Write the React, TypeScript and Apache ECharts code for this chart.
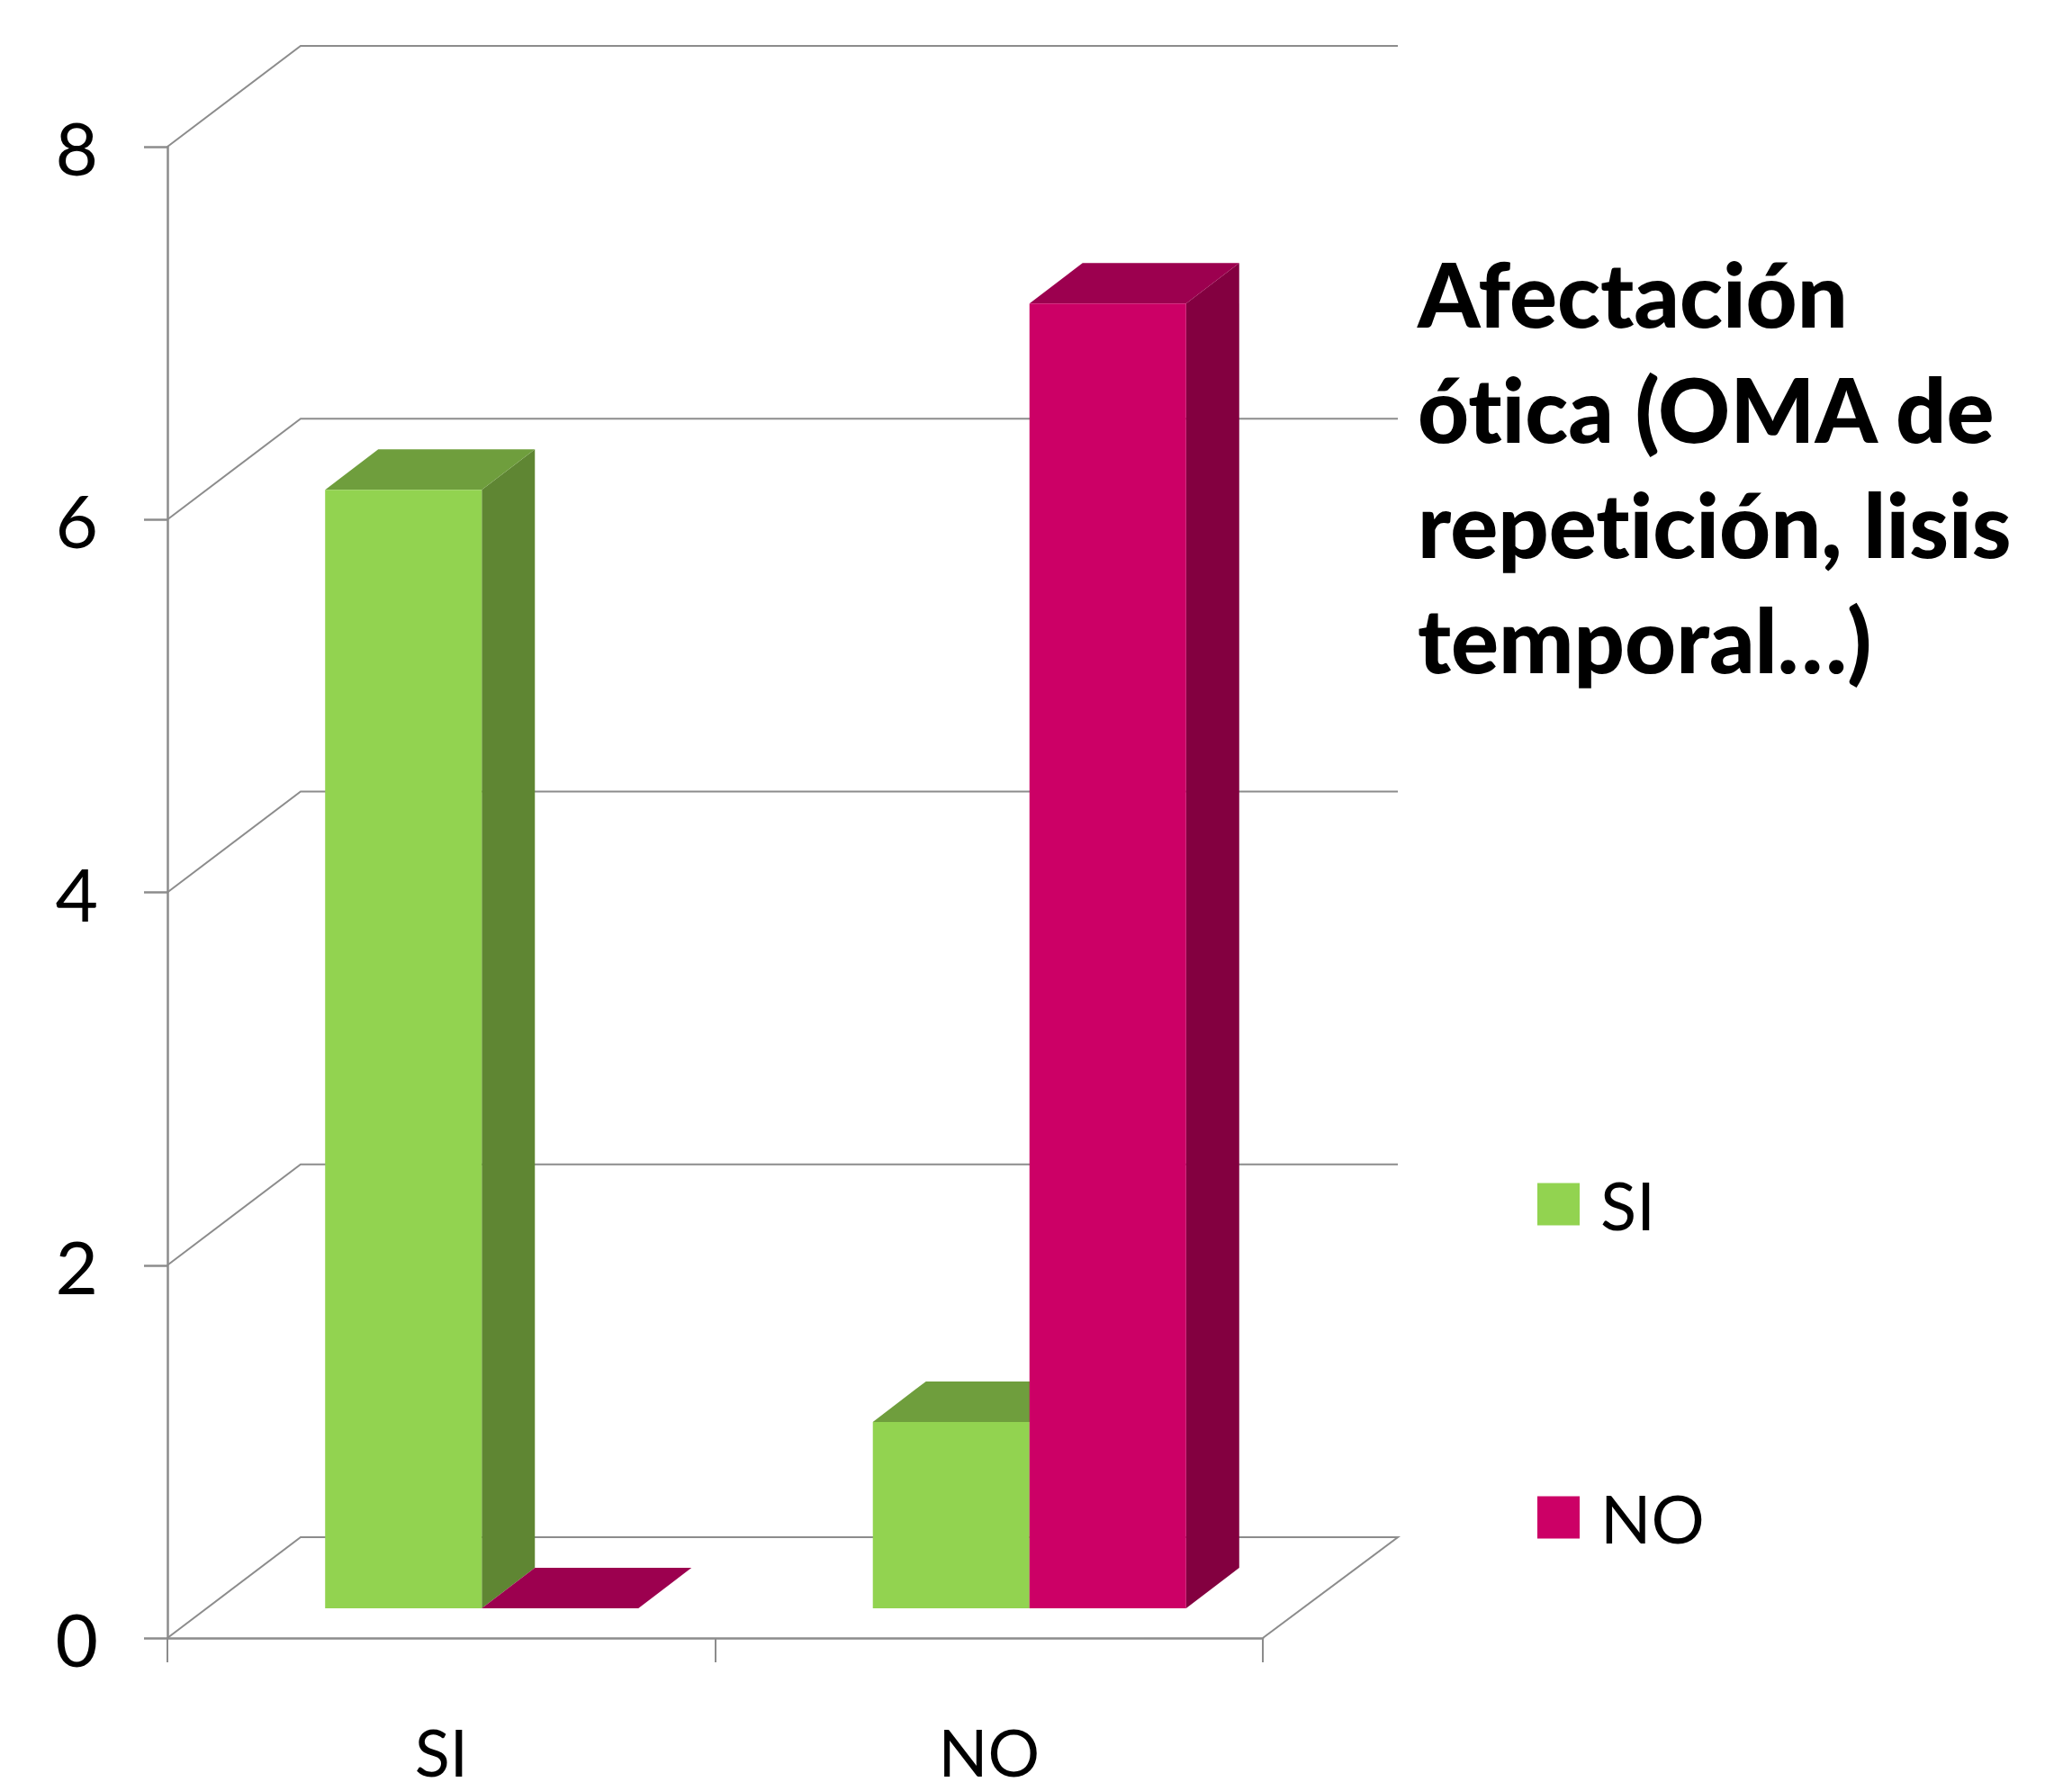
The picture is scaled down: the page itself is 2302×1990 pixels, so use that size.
import React, { useEffect, useRef } from "react";
import * as echarts from "echarts";

// Chart content
const categories = ["SI", "NO"];
const siValues = [6, 1];
const noValues = [0, 7];
const yTicks = [0, 2, 4, 6, 8];
const titleLines = ["Afectación", "ótica (OMA de", "repetición, lisis", "temporal…)"];

// Oblique projection of the 3D box
const WALL_DX = 148;
const WALL_DY = 112;
const BAR_DX = 59;
const BAR_DY = 45;
const FLOOR_DX = 45;
const FLOOR_DY = 33;
const BAR_WIDTH_RATIO = 0.286;

const GRID_COLOR = "#8c8c8c";
const FONT = "Lato";

const shadesSi = { front: "#92d350", side: "#5f8633", top: "#6f9e3d" };
const shadesNo = { front: "#cc0066", side: "#830040", top: "#9c004f" };

// One oblique bar: slot 0 sits left of the category centre, slot 1 right of it.
function barRenderer(slot: number, shades: { front: string; side: string; top: string }) {
  return (_params: any, api: any) => {
    const i = api.value(0);
    const [cx, yTop] = api.coord([i, api.value(1)]);
    const [, yZero] = api.coord([i, 0]);
    const w = api.size([1, 0])[0] * BAR_WIDTH_RATIO;
    const x0 = cx + FLOOR_DX - w + slot * w;
    const x1 = x0 + w;
    const top = yTop - FLOOR_DY;
    const bottom = yZero - FLOOR_DY;
    return {
      type: "group",
      children: [
        {
          type: "polygon",
          shape: {
            points: [
              [x1, bottom],
              [x1 + BAR_DX, bottom - BAR_DY],
              [x1 + BAR_DX, top - BAR_DY],
              [x1, top],
            ],
          },
          style: { fill: shades.side },
        },
        {
          type: "polygon",
          shape: {
            points: [
              [x0, top],
              [x0 + BAR_DX, top - BAR_DY],
              [x1 + BAR_DX, top - BAR_DY],
              [x1, top],
            ],
          },
          style: { fill: shades.top },
        },
        {
          type: "rect",
          shape: { x: x0, y: top, width: w, height: bottom - top },
          style: { fill: shades.front },
        },
      ],
    };
  };
}

// Gridline running from the value axis across the side wall and along the back wall.
function wallRenderer(params: any, api: any) {
  const box = params.coordSys;
  const y = api.coord([0, api.value(1)])[1];
  const left = box.x;
  const right = box.x + box.width;
  const points =
    api.value(1) === 0
      ? [
          [left, y],
          [left + WALL_DX, y - WALL_DY],
          [right + WALL_DX + 2, y - WALL_DY],
          [right, y],
        ]
      : [
          [left, y],
          [left + WALL_DX, y - WALL_DY],
          [right + WALL_DX + 2, y - WALL_DY],
        ];
  return {
    type: "polyline",
    shape: { points },
    style: { stroke: GRID_COLOR, lineWidth: 2, fill: "none" },
  };
}

export default function App() {
  const ref = useRef<HTMLDivElement>(null);

  useEffect(() => {
    const chart = echarts.init(ref.current!, null, { renderer: "svg" });
    chart.setOption({
      animation: false,
      backgroundColor: "#ffffff",
      title: {
        text: titleLines.join("\n"),
        left: 1575,
        top: 261,
        padding: 0,
        textStyle: {
          fontFamily: FONT,
          fontWeight: 900,
          fontSize: 99,
          lineHeight: 128,
          color: "#000000",
        },
      },
      legend: {
        orient: "vertical",
        left: 1708,
        top: 1301,
        padding: 0,
        itemWidth: 47,
        itemHeight: 47,
        itemGap: 274,
        selectedMode: false,
        icon: "rect",
        data: categories,
        textStyle: {
          fontFamily: FONT,
          fontSize: 74,
          lineHeight: 47,
          color: "#000000",
          padding: [0, 0, 0, 18],
        },
      },
      grid: { left: 186, top: 163, width: 1217, height: 1657, outerBoundsMode: "none" },
      xAxis: {
        type: "category",
        data: categories,
        axisLine: { lineStyle: { color: GRID_COLOR, width: 2.5 } },
        axisTick: { show: true, length: 27, lineStyle: { color: GRID_COLOR, width: 2 } },
        axisLabel: {
          margin: 96,
          fontFamily: FONT,
          fontSize: 72,
          lineHeight: 60,
          color: "#000000",
        },
        splitLine: { show: false },
      },
      yAxis: {
        type: "value",
        min: 0,
        max: 8,
        interval: 2,
        axisLine: { show: true, lineStyle: { color: GRID_COLOR, width: 2.5 } },
        axisTick: { show: true, length: 26, lineStyle: { color: GRID_COLOR, width: 2.5 } },
        axisLabel: {
          margin: 77,
          fontFamily: FONT,
          fontSize: 82,
          color: "#000000",
        },
        splitLine: { show: false },
      },
      series: [
        {
          type: "custom",
          name: "Paredes",
          renderItem: wallRenderer,
          data: yTicks.map((v) => [0, v]),
          encode: { x: 0, y: 1 },
          silent: true,
          z: 1,
        },
        {
          type: "custom",
          name: categories[0],
          renderItem: barRenderer(0, shadesSi),
          itemStyle: { color: shadesSi.front },
          data: siValues.map((v, i) => [i, v]),
          encode: { x: 0, y: 1 },
          z: 2,
        },
        {
          type: "custom",
          name: categories[1],
          renderItem: barRenderer(1, shadesNo),
          itemStyle: { color: shadesNo.front },
          data: noValues.map((v, i) => [i, v]),
          encode: { x: 0, y: 1 },
          z: 3,
        },
      ],
    });
    return () => chart.dispose();
  }, []);

  return (
    <div
      ref={ref}
      style={{
        position: "absolute",
        left: 0,
        top: 0,
        width: 2302,
        height: 1990,
        fontVariantLigatures: "none",
      }}
    />
  );
}
